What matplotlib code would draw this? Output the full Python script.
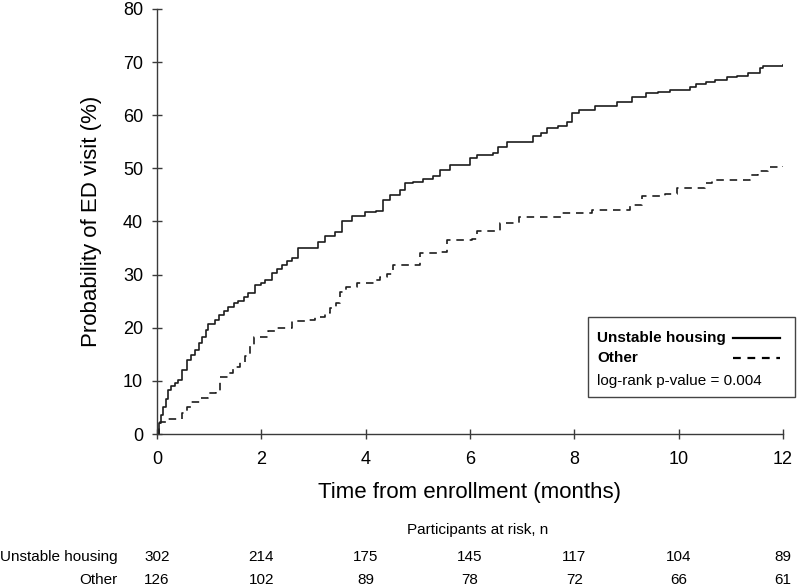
import matplotlib
matplotlib.use("Agg")
import matplotlib.pyplot as plt
from matplotlib.patches import Rectangle
from matplotlib.transforms import blended_transform_factory

plt.rcParams['font.family'] = ['Liberation Sans', 'DejaVu Sans']

# cumulative probability of ED visit (%)
unstable_t = [0, 0.03, 0.07, 0.12, 0.17, 0.22, 0.26, 0.35, 0.41, 0.47, 0.57, 0.65, 0.73,
              0.80, 0.86, 0.93, 0.98, 1.11, 1.18, 1.28, 1.37, 1.47, 1.56, 1.66, 1.75,
              1.88, 2.00, 2.07, 2.20, 2.30, 2.39, 2.49, 2.58, 2.71, 3.09, 3.22, 3.41,
              3.54, 3.73, 3.99, 4.20, 4.34, 4.47, 4.66, 4.75, 4.91, 5.10, 5.30, 5.42,
              5.62, 6.00, 6.13, 6.44, 6.54, 6.70, 7.21, 7.37, 7.47, 7.69, 7.85, 7.95,
              8.08, 8.40, 8.81, 9.10, 9.38, 9.61, 9.83, 10.22, 10.34, 10.53, 10.70,
              10.92, 11.11, 11.33, 11.56, 11.62, 12.0]
unstable_v = [0, 2.0, 3.5, 5.0, 6.5, 8.3, 9.0, 9.6, 10.2, 12.0, 13.9, 14.8, 15.8,
              17.2, 18.3, 19.6, 20.8, 21.5, 22.4, 23.2, 24.0, 24.6, 25.0, 25.8, 26.5,
              28.0, 28.5, 29.0, 30.3, 31.0, 31.8, 32.5, 33.1, 35.0, 36.2, 37.2, 38.1,
              40.0, 41.0, 41.7, 42.0, 44.1, 45.0, 46.0, 47.2, 47.5, 48.0, 48.5, 49.7,
              50.7, 51.9, 52.5, 52.8, 54.1, 55.0, 56.0, 56.6, 57.6, 58.0, 58.8, 60.4,
              60.9, 61.7, 62.4, 63.4, 64.1, 64.4, 64.7, 65.3, 65.9, 66.2, 66.7,
              67.2, 67.4, 68.0, 68.9, 69.3, 69.4]

other_t = [0, 0.03, 0.06, 0.22, 0.47, 0.57, 0.66, 0.82, 0.98, 1.14, 1.21, 1.37, 1.46,
           1.59, 1.69, 1.78, 1.85, 2.13, 2.26, 2.58, 2.84, 3.03, 3.22, 3.32, 3.44,
           3.51, 3.63, 3.83, 4.18, 4.27, 4.40, 4.53, 5.04, 5.42, 5.55, 6.03, 6.13,
           6.57, 6.93, 7.75, 8.33, 9.07, 9.29, 9.74, 9.96, 10.50, 10.63, 11.37,
           11.53, 11.72, 12.0]
other_v = [0, 1.4, 2.3, 2.9, 3.9, 5.1, 6.1, 6.7, 7.7, 8.0, 10.8, 11.4, 12.7,
           13.6, 14.6, 16.8, 18.3, 19.3, 19.9, 21.2, 21.5, 22.1, 22.7, 23.7, 24.6,
           26.8, 27.7, 28.4, 29.0, 29.5, 30.2, 31.8, 34.1, 34.3, 36.5, 36.7, 38.3,
           39.8, 40.8, 41.6, 42.2, 43.1, 44.8, 45.2, 46.3, 47.2, 47.9, 48.7,
           49.5, 50.3, 50.4]

risk_times = [0, 2, 4, 6, 8, 10, 12]
risk_unstable = [302, 214, 175, 145, 117, 104, 89]
risk_other = [126, 102, 89, 78, 72, 66, 61]
groups = ["Unstable housing", "Other"]

line_col = "#1c1c1c"
axis_col = "#3a3a3a"

fig = plt.figure(figsize=(8, 5.88), dpi=100)
ax = fig.add_axes([0.19625, 0.2619, 0.7825, 0.7228])

ax.plot(unstable_t, unstable_v, drawstyle="steps-post", color=line_col, lw=1.2)
ax.plot(other_t, other_v, drawstyle="steps-post", color=line_col, lw=1.2,
        linestyle=(0, (4.5, 3.5)))

ax.set_xlim(0, 12)
ax.set_ylim(0, 80)
ax.set_xticks(risk_times)
ax.set_yticks(range(0, 81, 10))
for s in ["top", "right"]:
    ax.spines[s].set_visible(False)
for s in ["left", "bottom"]:
    ax.spines[s].set_color(axis_col)
    ax.spines[s].set_linewidth(1.0)
ax.tick_params(axis="both", direction="inout", length=7, width=1.0,
               color=axis_col, labelsize=13)
ax.tick_params(axis="y", pad=6.5)
ax.tick_params(axis="x", pad=9)

ax.set_xlabel("Time from enrollment (months)", fontsize=16)
ax.set_ylabel("Probability of ED visit (%)", fontsize=16)
ax.xaxis.set_label_coords(0.5, -0.114)
ax.yaxis.set_label_coords(-0.088, 0.5)

# legend box
ax.add_patch(Rectangle((0.688, 0.087), 0.331, 0.188, transform=ax.transAxes,
                       fill=False, edgecolor="#444444", lw=1.0, clip_on=False))
ax.text(0.703, 0.226, groups[0], transform=ax.transAxes, fontsize=11,
        fontweight="bold", va="center")
ax.text(0.703, 0.179, groups[1], transform=ax.transAxes, fontsize=11,
        fontweight="bold", va="center")
ax.text(0.703, 0.125, "log-rank p-value = 0.004", transform=ax.transAxes,
        fontsize=11, va="center")
ax.plot([0.920, 0.995], [0.226, 0.226], transform=ax.transAxes, color="black",
        lw=1.6, clip_on=False)
ax.plot([0.920, 0.995], [0.179, 0.179], transform=ax.transAxes, color="black",
        lw=1.6, linestyle=(0, (3.5, 3)), clip_on=False)

# number at risk table
tr = blended_transform_factory(ax.transData, fig.transFigure)
fig.text(0.5975, 0.0986, "Participants at risk, n", ha="center", va="center",
         fontsize=11)
fig.text(0.1475, 0.0527, groups[0], ha="right", va="center", fontsize=11)
fig.text(0.1475, 0.0136, groups[1], ha="right", va="center", fontsize=11)
for t, a, b in zip(risk_times, risk_unstable, risk_other):
    ax.text(t, 0.0527, str(a), transform=tr, ha="center", va="center", fontsize=11)
    ax.text(t, 0.0136, str(b), transform=tr, ha="center", va="center", fontsize=11)

fig.savefig("out.png", dpi=100)
